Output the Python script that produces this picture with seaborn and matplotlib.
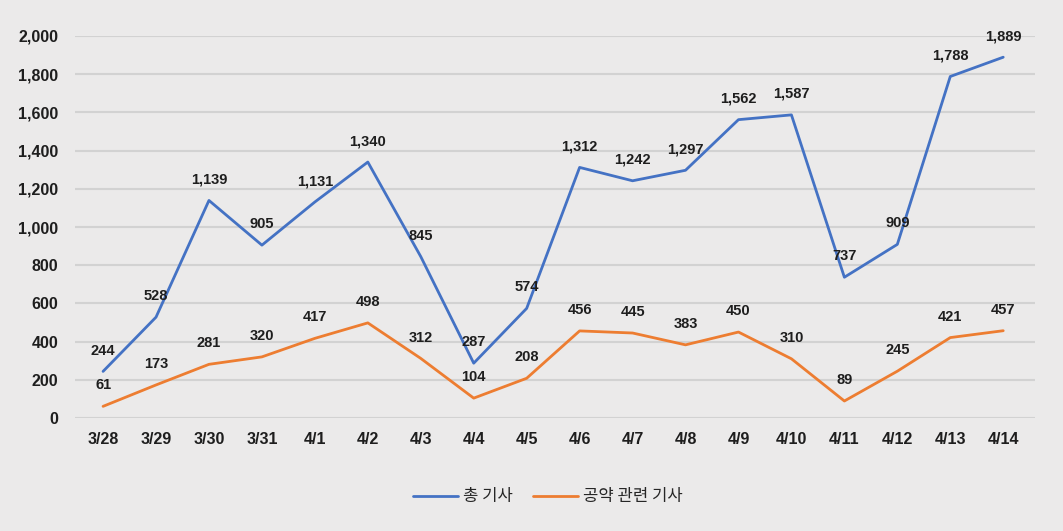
import matplotlib
matplotlib.use("Agg")
import matplotlib.pyplot as plt
import seaborn as sns
import pandas as pd

dates = ["3/28", "3/29", "3/30", "3/31", "4/1", "4/2", "4/3", "4/4", "4/5",
         "4/6", "4/7", "4/8", "4/9", "4/10", "4/11", "4/12", "4/13", "4/14"]
total = [244, 528, 1139, 905, 1131, 1340, 845, 287, 574,
         1312, 1242, 1297, 1562, 1587, 737, 909, 1788, 1889]
pledge = [61, 173, 281, 320, 417, 498, 312, 104, 208,
          456, 445, 383, 450, 310, 89, 245, 421, 457]
series_names = ["총 기사", "공약 관련 기사"]

sns.set_theme(style="white")
plt.rcParams["font.family"] = ["Liberation Sans Narrow", "Liberation Sans",
                               "Noto Sans CJK KR", "DejaVu Sans"]

bg = "#ebeaea"
colors = ["#4472c4", "#ed7d31"]

df = pd.DataFrame({
    "pos": list(range(len(dates))) * 2,
    "value": total + pledge,
    "series": [series_names[0]] * len(dates) + [series_names[1]] * len(dates),
})

fig = plt.figure(figsize=(10.63, 5.31), dpi=100, facecolor=bg)
ax = fig.add_axes([75 / 1063, 1 - 418 / 531, 960 / 1063, 382 / 531])
ax.set_facecolor(bg)

sns.lineplot(data=df, x="pos", y="value", hue="series", palette=colors,
             linewidth=2, ax=ax, legend=True)

for vals in (total, pledge):
    for i, v in enumerate(vals):
        ax.annotate(f"{v:,}", (i, v), xytext=(0, 10), textcoords="offset points",
                    ha="center", va="bottom", fontsize=10.5, fontweight="bold",
                    color="#1e1e1e")

ax.set_xlim(-0.53, 17.6)
ax.set_ylim(0, 2000)
ax.set_yticks(range(0, 2001, 200))
ax.set_yticklabels([f"{t:,}" for t in range(0, 2001, 200)])
ax.set_xticks(range(len(dates)))
ax.set_xticklabels(dates)
ax.tick_params(axis="both", length=0, labelsize=11.5, colors="#1e1e1e")
for lab in ax.get_xticklabels() + ax.get_yticklabels():
    lab.set_fontweight("bold")
ax.tick_params(axis="x", pad=10)
ax.tick_params(axis="y", pad=12)
ax.grid(axis="y", color="#d2d2d2", linewidth=1.5)
ax.set_axisbelow(True)
for s in ax.spines.values():
    s.set_visible(False)
ax.set_xlabel("")
ax.set_ylabel("")

leg = ax.legend(loc="center", bbox_to_anchor=(0.515, (531 - 497) / 531),
                bbox_transform=fig.transFigure, ncol=2, frameon=False,
                prop={"family": ["Noto Sans CJK KR", "DejaVu Sans"], "size": 12},
                handlelength=2.7, handletextpad=0.3, columnspacing=1.2)
for line in leg.get_lines():
    line.set_linewidth(2)

fig.savefig("out.png", dpi=100, facecolor=bg)
